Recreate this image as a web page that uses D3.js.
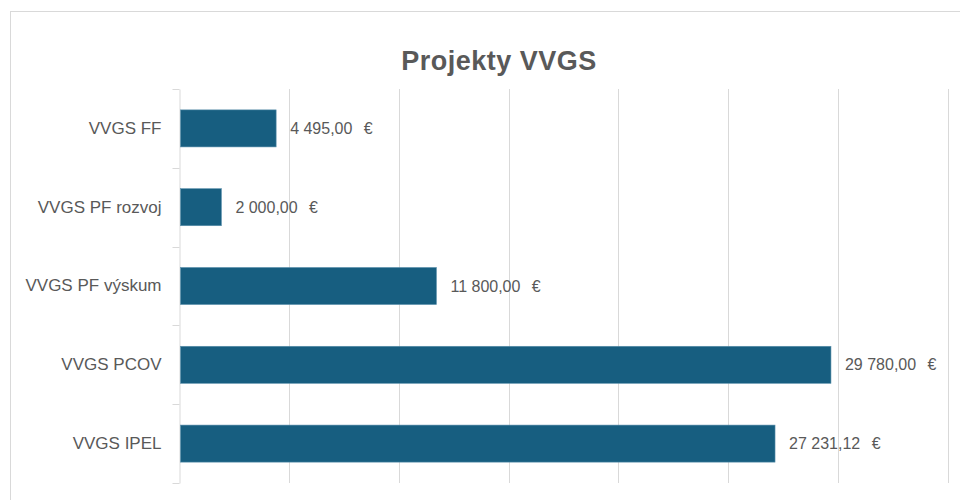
<!DOCTYPE html>
<html>
<head>
<meta charset="utf-8">
<script src="https://cdn.jsdelivr.net/npm/d3@7"></script>
<style>
  html, body { margin: 0; padding: 0; background: #fff; }
  svg { display: block; }
  text { font-family: "Liberation Sans", Arial, sans-serif; }
</style>
</head>
<body>
<svg id="chart" width="960" height="500"></svg>
<script>
const title = "Projekty VVGS";
const categories = ["VVGS FF", "VVGS PF rozvoj", "VVGS PF výskum", "VVGS PCOV", "VVGS IPEL"];
const values = [4495.00, 2000.00, 11800.00, 29780.00, 27231.12];
const xTicks = [0, 5000, 10000, 15000, 20000, 25000, 30000, 35000];
const currency = "€";

const svg = d3.select("#chart");
const W = 960, H = 500;
const plot = { left: 179.5, right: 947.5, top: 89, bottom: 483 };

svg.append("rect").attr("width", W).attr("height", H).attr("fill", "#fff");
svg.append("rect")
  .attr("x", 10.5).attr("y", 11.5).attr("width", W).attr("height", H)
  .attr("fill", "none").attr("stroke", "#d9d9d9").attr("stroke-width", 1);

const x = d3.scaleLinear().domain([0, 35000]).range([plot.left, plot.right]);
const y = d3.scaleBand().domain(categories).range([plot.top, plot.bottom])
  .paddingInner(0.53).paddingOuter(0.265);

const locale = d3.formatLocale({ decimal: ",", thousands: "\u00a0", grouping: [3], currency: ["", ""] });
const fmt = locale.format(",.2f");

// gridlines
svg.append("g").selectAll("line").data(xTicks.slice(1)).join("line")
  .attr("x1", d => Math.round(x(d)) + 0.5).attr("x2", d => Math.round(x(d)) + 0.5)
  .attr("y1", plot.top).attr("y2", plot.bottom)
  .attr("stroke", "#d9d9d9").attr("stroke-width", 1);

// y axis
const yAxis = d3.axisLeft(y).tickSize(0).tickPadding(18);
const gy = svg.append("g").attr("transform", `translate(${plot.left},0)`).call(yAxis);
gy.select(".domain").attr("stroke", "#d9d9d9");
gy.selectAll(".tick text").attr("fill", "#595959").style("font-size", "17px")
  .style("font-family", "'Liberation Sans', Arial, sans-serif");
// category boundary ticks
const bounds = categories.map(c => y(c) - y.step() * y.paddingInner() / 2).concat([plot.bottom]);
gy.append("g").selectAll("line").data(bounds).join("line")
  .attr("x1", -7).attr("x2", 0).attr("y1", d => Math.round(d) + 0.5).attr("y2", d => Math.round(d) + 0.5)
  .attr("stroke", "#d9d9d9");

// bars
svg.append("g").selectAll("rect").data(categories).join("rect")
  .attr("x", x(0) + 1)
  .attr("y", c => y(c))
  .attr("width", (c, i) => x(values[i]) - x(0) - 3)
  .attr("height", y.bandwidth())
  .attr("fill", "#175e80")
  .attr("stroke", "#5a8fab").attr("stroke-width", 0.6);

// value labels
const lab = svg.append("g").selectAll("text").data(categories).join("text")
  .attr("x", (c, i) => x(values[i]) + 12)
  .attr("y", c => y(c) + y.bandwidth() / 2)
  .attr("dy", "0.35em")
  .attr("fill", "#595959").style("font-size", "16px");
lab.append("tspan").text((c, i) => fmt(values[i]) + " ");
lab.append("tspan").attr("dx", 7).text(currency);

// title
svg.append("text")
  .attr("x", 499).attr("y", 70)
  .attr("text-anchor", "middle")
  .attr("fill", "#595959").style("font-size", "27px").style("font-weight", "bold")
  .attr("letter-spacing", "0.5")
  .text(title);
</script>
</body>
</html>
